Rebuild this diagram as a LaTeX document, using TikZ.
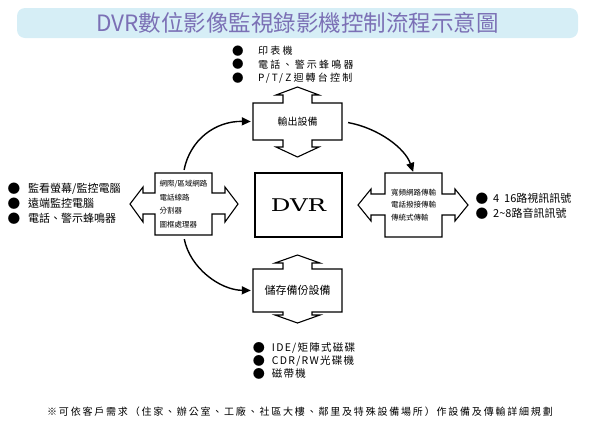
\documentclass[tikz,border=0pt]{standalone}
\usepackage{fontspec}
\usepackage{graphicx}
\setmainfont{Noto Sans CJK TC}
\newfontfamily\spaced[LetterSpace=22]{Noto Sans CJK TC}
\newfontfamily\lessspaced[LetterSpace=12]{Noto Sans CJK TC}
\newfontfamily\notefont[LetterSpace=18]{Noto Sans CJK TC}
\newfontfamily\dvrfont{DejaVu Serif}
\usetikzlibrary{arrows.meta}
\definecolor{bannerfill}{HTML}{D6EEF6}
\definecolor{titleink}{HTML}{7B70B5}
\newcommand\bul[1]{\makebox[#1][l]{\raisebox{-0.5pt}{\scalebox{1.15}{●}}}}

\begin{document}
\begin{tikzpicture}
[x=1pt,y=-1pt,
 outline/.style={draw=black,line width=1.1pt,line join=miter},
 flow/.style={line width=1.4pt,-{Triangle[length=9pt,width=8pt]}},
 boxarea/.style={inner sep=0pt,align=left},
 bullets/.style={align=left,anchor=north west,inner sep=0pt}]
\useasboundingbox (0,0) rectangle (595,440);

% title banner
\node [fill=bannerfill,rounded corners=8pt,minimum width=561pt,minimum height=30pt,
  text=titleink,font=\fontsize{22.5}{22.5}\selectfont] (title) at (297.5,23)
  {DVR數位影像監視錄影機控制流程示意圖};

% double arrow outlines
\draw [outline] (253,103) -- (283,103) -- (283,95) -- (276,95) -- (297.5,87)
  -- (319,95) -- (312,95) -- (312,103) -- (342,103) -- (342,140) -- (312,140)
  -- (312,147) -- (319,147) -- (297.5,157) -- (276,147) -- (283,147)
  -- (283,140) -- (253,140) -- cycle;
\draw [outline] (253,269) -- (283,269) -- (283,263) -- (275,263) -- (297.5,255)
  -- (320,263) -- (312,263) -- (312,269) -- (342,269) -- (342,312) -- (312,312)
  -- (312,315) -- (320,315) -- (297.5,323) -- (275,315) -- (283,315)
  -- (283,312) -- (253,312) -- cycle;
\draw [outline] (155,173) -- (212,173) -- (212,193) -- (225,193) -- (225,187)
  -- (238,204) -- (225,222) -- (225,214) -- (212,214) -- (212,235) -- (155,235)
  -- (155,214) -- (143,214) -- (143,222) -- (130,204) -- (143,187)
  -- (143,193) -- (155,193) -- cycle;
\draw [outline] (385,173) -- (442,173) -- (442,194) -- (455,194) -- (455,189)
  -- (468,205) -- (455,221) -- (455,215) -- (442,215) -- (442,237) -- (385,237)
  -- (385,215) -- (371,215) -- (371,221) -- (358,205) -- (371,189)
  -- (371,194) -- (385,194) -- cycle;

% box contents
\node [boxarea,minimum width=89pt,minimum height=37pt,
  font=\fontsize{10}{12}\selectfont] (outbox) at (297.5,121.5) {輸出設備};
\node [boxarea,minimum width=89pt,minimum height=43pt,
  font=\fontsize{11}{13}\selectfont] (storebox) at (297.5,290.5) {儲存備份設備};
\node [boxarea,minimum width=57pt,minimum height=62pt,
  font=\fontsize{7.5}{13.5}\selectfont] (netbox) at (183.5,204)
  {網際/區域網路\\電話線路\\分割器\\圖框處理器};
\node [boxarea,minimum width=57pt,minimum height=64pt,
  font=\fontsize{7.5}{12.5}\selectfont] (linkbox) at (413.5,205)
  {寬頻網路傳輸\\電話撥接傳輸\\傳統式傳輸};
\node [draw,line width=1.1pt,minimum width=87pt,minimum height=64pt,
  font=\dvrfont\fontsize{17.5}{17.5}\selectfont] (dvr) at (298.5,205)
  {\scalebox{1.4}[1]{DVR}};

% curved flows
\draw [flow,shorten <=3pt,shorten >=2pt] (netbox.north)
  .. controls (190,140) and (215,121) .. (outbox.west);
\draw [flow,shorten <=6pt,shorten >=1pt] (outbox.east)
  .. controls (378,128) and (405,148) .. (linkbox.north);
\draw [flow,shorten <=4pt,shorten >=2pt] (netbox.south)
  .. controls (190,268) and (220,290) .. (storebox.west);

% bullet lists
\node [bullets,font=\spaced\fontsize{10}{13.5}\selectfont] (outlist) at (232,45.5)
  {\bul{26pt}印表機\\\bul{26pt}電話、警示蜂鳴器\\\bul{26pt}P/T/Z迴轉台控制};
\node [bullets,font=\fontsize{11}{15}\selectfont] (viewlist) at (7.5,182.5)
  {\bul{20.5pt}監看螢幕/監控電腦\\\bul{20.5pt}遠端監控電腦\\\bul{20.5pt}電話、警示蜂鳴器};
\node [bullets,font=\lessspaced\fontsize{10.5}{13}\selectfont] (storelist) at (252.75,342)
  {\bul{19pt}IDE/矩陣式磁碟\\\bul{19pt}CDR/RW光碟機\\\bul{19pt}磁帶機};
\node [bullets,font=\fontsize{11}{15}\selectfont] (signallist) at (475.5,192.5)
  {\bul{17.5pt}4\ \ 16路視訊訊號\\\bul{17.5pt}2\textasciitilde8路音訊訊號};

% footnote
\node [font=\notefont\fontsize{10}{12}\selectfont] (note) at (300,412)
  {※可依客戶需求（住家、辦公室、工廠、社區大樓、鄰里及特殊設備場所）作設備及傳輸詳細規劃};
\end{tikzpicture}
\end{document}
